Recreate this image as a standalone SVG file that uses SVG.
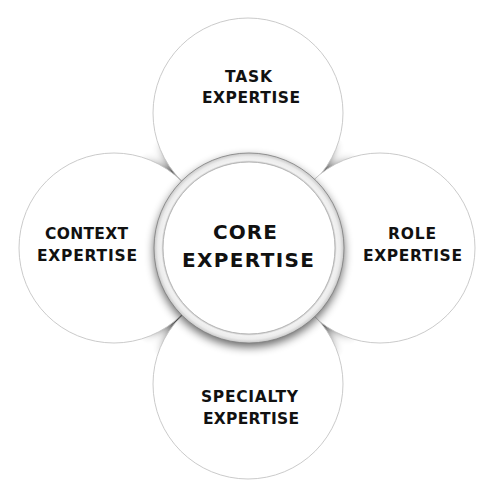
<svg xmlns="http://www.w3.org/2000/svg" width="500" height="500" viewBox="0 0 500 500">
<style>
.petal{fill:#ffffff;stroke:#c4c4c4;stroke-width:0.9}
.lbl{font-family:"DejaVu Sans","Liberation Sans",sans-serif;font-size:15.5px;font-weight:bold;fill:#111;text-anchor:middle}
.core{font-family:"DejaVu Sans","Liberation Sans",sans-serif;font-size:20px;font-weight:bold;fill:#111;text-anchor:middle}
</style>
<defs>
<filter id="blur5" x="-30%" y="-30%" width="160%" height="160%"><feGaussianBlur stdDeviation="5"/></filter>
<radialGradient id="fadeG" gradientUnits="userSpaceOnUse" cx="249" cy="248" r="150">
<stop offset="0.7" stop-color="#fff" stop-opacity="1"/>
<stop offset="0.95" stop-color="#fff" stop-opacity="0"/>
</radialGradient>
<mask id="fadeM" maskUnits="userSpaceOnUse" x="0" y="0" width="500" height="500">
<rect x="0" y="0" width="500" height="500" fill="url(#fadeG)"/>
</mask>
<radialGradient id="ringG" gradientUnits="userSpaceOnUse" cx="249" cy="248" r="96">
<stop offset="0.89" stop-color="#c0c0c0"/>
<stop offset="0.915" stop-color="#f2f2f2"/>
<stop offset="0.95" stop-color="#ececec"/>
<stop offset="0.985" stop-color="#cccccc"/>
<stop offset="1" stop-color="#9a9a9a"/>
</radialGradient>
</defs>

<g id="petal-shadows" mask="url(#fadeM)" filter="url(#blur5)" fill="#000" opacity="0.8">
<circle cx="248" cy="113" r="95"/>
<circle cx="114" cy="248" r="95"/>
<circle cx="380" cy="248" r="95"/>
<circle cx="248" cy="384" r="95"/>
</g>

<g id="task">
<circle class="petal" cx="248" cy="113" r="95"/>
<text class="lbl" x="248.5" y="82" textLength="47" lengthAdjust="spacing">TASK</text>
<text class="lbl" x="251" y="103" textLength="98" lengthAdjust="spacing">EXPERTISE</text>
</g>
<g id="context">
<circle class="petal" cx="114" cy="248" r="95"/>
<text class="lbl" x="86.5" y="239" textLength="83" lengthAdjust="spacing">CONTEXT</text>
<text class="lbl" x="87" y="261" textLength="100" lengthAdjust="spacing">EXPERTISE</text>
</g>
<g id="role">
<circle class="petal" cx="380" cy="248" r="95"/>
<text class="lbl" x="412" y="239" textLength="48" lengthAdjust="spacing">ROLE</text>
<text class="lbl" x="412.5" y="261" textLength="99" lengthAdjust="spacing">EXPERTISE</text>
</g>
<g id="specialty">
<circle class="petal" cx="248" cy="384" r="95"/>
<text class="lbl" x="249.5" y="402" textLength="97" lengthAdjust="spacing">SPECIALTY</text>
<text class="lbl" x="251" y="424" textLength="96" lengthAdjust="spacing">EXPERTISE</text>
</g>

<g id="core">
<circle cx="249" cy="252" r="95" fill="#000" opacity="0.6" filter="url(#blur5)"/>
<circle cx="249" cy="248" r="95" fill="url(#ringG)" stroke="#808080" stroke-width="0.8"/>
<circle cx="249" cy="248" r="86" fill="#ffffff" stroke="#b0b0b0" stroke-width="0.9"/>
<text class="core" x="245" y="239" textLength="64" lengthAdjust="spacing">CORE</text>
<text class="core" x="248" y="267" textLength="132" lengthAdjust="spacing">EXPERTISE</text>
</g>
</svg>
